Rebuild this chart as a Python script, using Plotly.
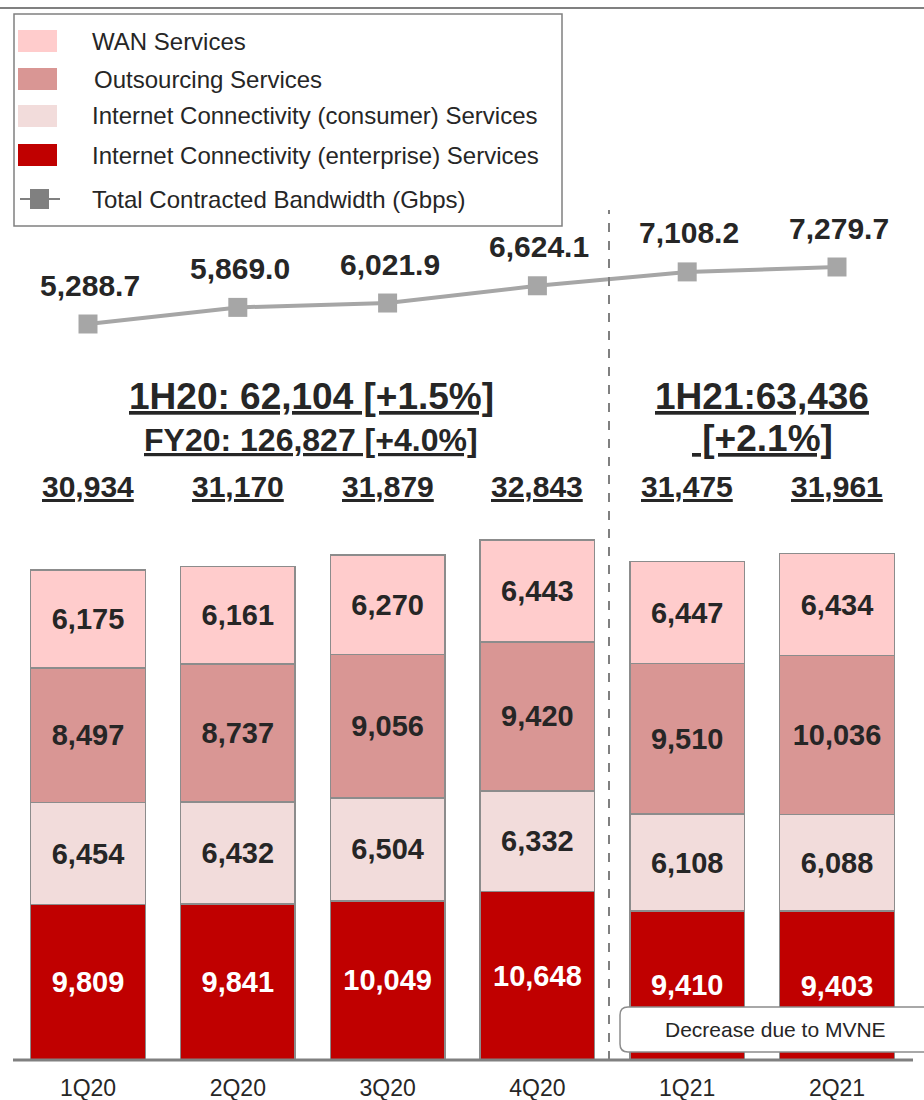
import plotly.graph_objects as go

categories = ["1Q20", "2Q20", "3Q20", "4Q20", "1Q21", "2Q21"]
enterprise = [9809, 9841, 10049, 10648, 9410, 9403]
consumer = [6454, 6432, 6504, 6332, 6108, 6088]
outsourcing = [8497, 8737, 9056, 9420, 9510, 10036]
wan = [6175, 6161, 6270, 6443, 6447, 6434]
totals = [30934, 31170, 31879, 32843, 31475, 31961]
bandwidth = [5288.7, 5869.0, 6021.9, 6624.1, 7108.2, 7279.7]

FONT = "Liberation Sans, Arial, sans-serif"
DARK = "#262626"
W, H = 924, 1100
PLOT_H = 1060

series = [
    ("Internet Connectivity (enterprise) Services", enterprise, "#C00000", "white"),
    ("Internet Connectivity (consumer) Services", consumer, "#F2DCDB", DARK),
    ("Outsourcing Services", outsourcing, "#D99694", DARK),
    ("WAN Services", wan, "#FFCCCC", DARK),
]

fig = go.Figure()
for name, vals, color, tcolor in series:
    fig.add_trace(go.Bar(
        x=categories, y=vals, name=name,
        marker=dict(color=color, line=dict(color="#8C8C8C", width=1.5)),
        width=0.765,
        text=[f"{v:,}" for v in vals], textposition="inside",
        insidetextanchor="middle", textangle=0,
        textfont=dict(family=FONT, size=29, color=tcolor, weight="bold"),
        constraintext="none", showlegend=False, hoverinfo="skip",
    ))

fig.add_trace(go.Scatter(
    x=categories, y=bandwidth, yaxis="y2", mode="lines+markers",
    line=dict(color="#A6A6A6", width=4),
    marker=dict(symbol="square", size=19, color="#A6A6A6"),
    showlegend=False, hoverinfo="skip",
))


def py(p):
    return 1 - p / PLOT_H


def ann(**kw):
    kw.setdefault("xanchor", "center")
    kw.setdefault("yanchor", "middle")
    kw.setdefault("showarrow", False)
    fig.add_annotation(**kw)


# line value labels
for c, v in zip(categories, bandwidth):
    ann(x=c, y=v, yref="y2", text=f"<b>{v:,.1f}</b>", yshift=39, xshift=2,
        font=dict(family=FONT, size=30, color=DARK))

# total labels
for c, t in zip(categories, totals):
    ann(x=c, y=py(486), yref="paper", text=f"<b><u>{t:,}</u></b>",
        font=dict(family=FONT, size=30, color=DARK))

# period summaries
ann(x=311 / W, xref="paper", y=py(397), yref="paper",
    text="<b><u>1H20: 62,104 [+1.5%]</u></b>", font=dict(family=FONT, size=37, color=DARK))
ann(x=311 / W, xref="paper", y=py(440), yref="paper",
    text="<b><u>FY20: 126,827 [+4.0%]</u></b>", font=dict(family=FONT, size=32, color=DARK))
ann(x=762 / W, xref="paper", y=py(397), yref="paper",
    text="<b><u>1H21:63,436</u></b>", font=dict(family=FONT, size=37, color=DARK))
ann(x=762 / W, xref="paper", y=py(438), yref="paper",
    text="<b><u> [+2.1%]</u></b>", font=dict(family=FONT, size=37, color=DARK))

shapes = []
# top rule
shapes.append(dict(type="line", xref="paper", yref="paper", x0=0, x1=1,
                   y0=py(8), y1=py(8), line=dict(color="#808080", width=2)))
# baseline
shapes.append(dict(type="line", xref="paper", yref="paper", x0=13 / W, x1=913 / W,
                   y0=0, y1=0, line=dict(color="#808080", width=3)))
# dashed divider
shapes.append(dict(type="line", xref="paper", yref="paper", x0=609 / W, x1=609 / W,
                   y0=0, y1=py(210), line=dict(color="#808080", width=2, dash="dash")))

# legend box
shapes.append(dict(type="rect", xref="paper", yref="paper", x0=14 / W, x1=562 / W,
                   y0=py(226), y1=py(14), line=dict(color="#808080", width=1.5),
                   fillcolor="white", layer="below"))
legend_items = [
    ("WAN Services", "#FFCCCC", 41, 90),
    ("Outsourcing Services", "#D99694", 79, 92),
    ("Internet Connectivity (consumer) Services", "#F2DCDB", 116, 90),
    ("Internet Connectivity (enterprise) Services", "#C00000", 155, 90),
]
for label, color, yc, tx in legend_items:
    shapes.append(dict(type="rect", xref="paper", yref="paper", x0=18 / W, x1=57 / W,
                       y0=py(yc + 11), y1=py(yc - 11), line=dict(width=0), fillcolor=color))
    ann(x=tx / W, xref="paper", y=py(yc), yref="paper", text=label, xanchor="left",
        font=dict(family=FONT, size=24, color=DARK))
# line legend symbol
shapes.append(dict(type="line", xref="paper", yref="paper", x0=20 / W, x1=60 / W,
                   y0=py(199), y1=py(199), line=dict(color="#808080", width=2)))
shapes.append(dict(type="rect", xref="paper", yref="paper", x0=30 / W, x1=49 / W,
                   y0=py(209), y1=py(189), line=dict(width=0), fillcolor="#808080"))
ann(x=90 / W, xref="paper", y=py(199), yref="paper",
    text="Total Contracted Bandwidth (Gbps)", xanchor="left",
    font=dict(family=FONT, size=24, color=DARK))

# callout box (rounded)
x0, x1, y0, y1, r = 620, 940, 1007, 1052, 8
pts = [("M", x0 + r, y0), ("L", x1, y0), ("L", x1, y1), ("L", x0 + r, y1),
       ("Q", x0, y1, x0, y1 - r), ("L", x0, y0 + r), ("Q", x0, y0, x0 + r, y0)]
segs = []
for p in pts:
    cmd, coords = p[0], p[1:]
    cs = " ".join(f"{coords[i] / W:.5f},{py(coords[i + 1]):.5f}" for i in range(0, len(coords), 2))
    segs.append(f"{cmd} {cs}")
shapes.append(dict(type="path", xref="paper", yref="paper", path=" ".join(segs) + " Z",
                   fillcolor="white", line=dict(color="#8C8C8C", width=1.5), layer="above"))
ann(x=775 / W, xref="paper", y=py(1029), yref="paper", text="Decrease due to MVNE",
    font=dict(family=FONT, size=21, color=DARK))

x_lo = -88 / 149.8
x_hi = (W - 88) / 149.8
k = 0.01584
k2 = 0.02863
a2 = 5288.7 - (PLOT_H - 324) / k2

fig.update_layout(
    width=W, height=H, barmode="stack",
    margin=dict(l=0, r=0, t=0, b=H - PLOT_H, pad=0),
    paper_bgcolor="white", plot_bgcolor="white",
    font=dict(family=FONT, color=DARK),
    xaxis=dict(range=[x_lo, x_hi], showgrid=False, zeroline=False, showline=False,
               ticks="", ticklabelstandoff=12,
               tickfont=dict(family=FONT, size=23, color=DARK), fixedrange=True),
    yaxis=dict(range=[0, PLOT_H / k], visible=False, showgrid=False, fixedrange=True),
    yaxis2=dict(range=[a2, a2 + PLOT_H / k2], overlaying="y", visible=False,
                showgrid=False, fixedrange=True),
    shapes=shapes,
    showlegend=False,
)

fig.write_html("out.html", config={"displayModeBar": False},
               post_script="document.body.style.margin='0px';")
